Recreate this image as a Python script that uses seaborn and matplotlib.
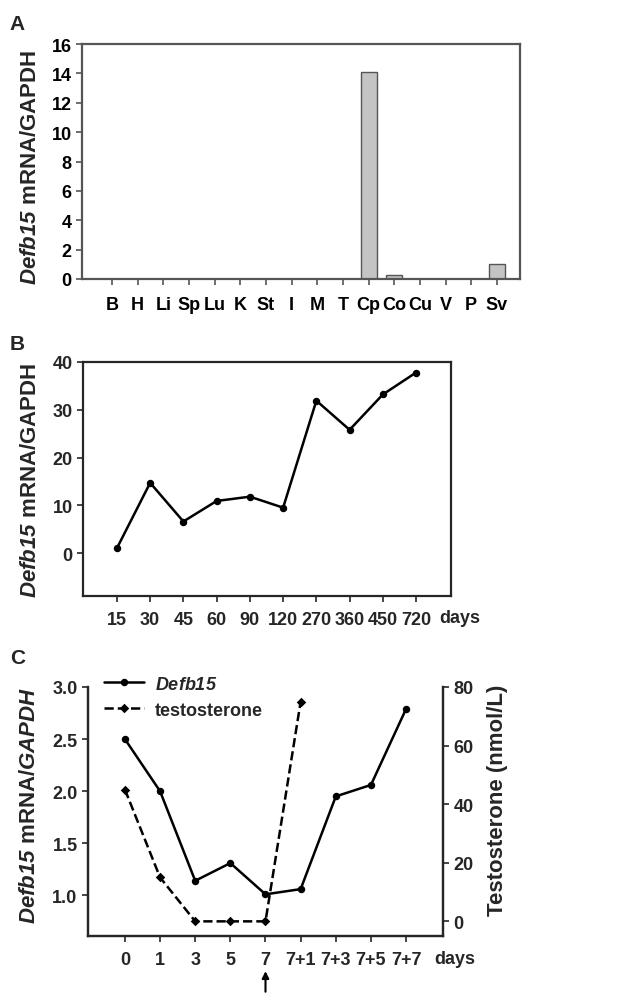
import numpy as np
import pandas as pd
import matplotlib
matplotlib.use('Agg')
import matplotlib.pyplot as plt
import matplotlib.transforms as mtransforms
import seaborn as sns

# panel A: tissue distribution
tissues = ['B', 'H', 'Li', 'Sp', 'Lu', 'K', 'St', 'I', 'M', 'T', 'Cp', 'Co', 'Cu', 'V', 'P', 'Sv']
tissue_expr = [0, 0, 0, 0, 0, 0, 0, 0, 0, 0, 14.1, 0.3, 0, 0, 0, 1.0]

# panel B: expression by age (days)
ages = ['15', '30', '45', '60', '90', '120', '270', '360', '450', '720']
age_expr = [1.0, 14.7, 6.6, 10.9, 11.8, 9.5, 31.9, 25.8, 33.2, 37.8]

# panel C: castration / testosterone replacement
cast_days = ['0', '1', '3', '5', '7', '7+1', '7+3', '7+5', '7+7']
cast_expr = [2.5, 2.0, 1.14, 1.31, 1.01, 1.06, 1.95, 2.06, 2.79]
testo_days = ['0', '1', '3', '5', '7', '7+1']
testo = [45, 15, 0, 0, 0, 75]

sns.set_style('ticks')
plt.rcParams['font.family'] = ['Liberation Sans', 'DejaVu Sans']
plt.rcParams['font.weight'] = 'bold'
plt.rcParams['mathtext.fontset'] = 'custom'
plt.rcParams['mathtext.sf'] = 'Liberation Sans:italic:bold'
plt.rcParams['mathtext.rm'] = 'Liberation Sans:bold'
plt.rcParams['axes.linewidth'] = 1.6
plt.rcParams['xtick.major.width'] = 1.2
plt.rcParams['ytick.major.width'] = 1.2
plt.rcParams['xtick.major.size'] = 4
plt.rcParams['ytick.major.size'] = 4

XT = 13
YT = 13
LAB = 16

W, H = 623, 995
fig = plt.figure(figsize=(W / 100, H / 100), dpi=100)


def box(l, r, t, b):
    return [l / W, 1 - b / H, (r - l) / W, (b - t) / H]


def style_ticks(ax):
    for lab in ax.get_xticklabels():
        lab.set_fontweight('bold')
        lab.set_fontsize(XT)
    for lab in ax.get_yticklabels():
        lab.set_fontweight('bold')
        lab.set_fontsize(YT)


ITAL = r'$\mathsf{Defb15}$'

# ---- A ----
axA = fig.add_axes(box(82, 520, 45, 280))
sns.barplot(x=tissues, y=tissue_expr, order=tissues, color='#c4c4c4', saturation=1,
            edgecolor='#555555', linewidth=1.0, width=0.63, ax=axA)
axA.set_xlim(-1.17, 15.9)
axA.set_ylim(0, 16)
axA.set_yticks(range(0, 17, 2))
for s in axA.spines.values():
    s.set_color('#555555')
axA.tick_params(colors='#555555', labelcolor='black')
axA.tick_params(axis='x', pad=8)
axA.set_xlabel('')
axA.set_ylabel(ITAL + ' mRNA/GAPDH', fontsize=LAB, fontweight='bold')
axA.yaxis.set_label_coords(-0.094, 0.48)
style_ticks(axA)
fig.text(9 / W, 1 - 24 / H, 'A', fontsize=15, fontweight='bold', va='center')

# ---- B ----
axB = fig.add_axes(box(83, 451, 363, 597))
sns.pointplot(x=ages, y=age_expr, order=ages, color='black', errorbar=None,
              markers='o', markersize=4, linewidth=1.8, ax=axB)
axB.set_xlim(-1.02, 10.05)
axB.set_ylim(-9, 40)
axB.set_yticks(range(0, 41, 10))
axB.set_xlabel('')
axB.set_ylabel(ITAL + ' mRNA/GAPDH', fontsize=LAB, fontweight='bold')
axB.yaxis.set_label_coords(-0.115, 0.5)
style_ticks(axB)
axB.tick_params(axis='x', pad=7)
axB.text(0.968, -0.092, 'days', transform=axB.transAxes, fontsize=XT, fontweight='bold',
         ha='left', va='center')
fig.text(10 / W, 1 - 345 / H, 'B', fontsize=15, fontweight='bold', va='center')

# ---- C ----
axC = fig.add_axes(box(88, 443, 688, 937))
sns.pointplot(x=cast_days, y=cast_expr, order=cast_days, color='black', errorbar=None,
              markers='o', markersize=4, linewidth=1.8, ax=axC, label=ITAL)
axC2 = axC.twinx()
sns.pointplot(x=testo_days, y=testo, order=cast_days, color='black', errorbar=None,
              markers='D', markersize=3.5, linewidth=1.8, linestyles='--', ax=axC2,
              label='testosterone')
for a in (axC, axC2):
    a.set_xlim(-1.05, 9.05)
    a.spines['top'].set_visible(False)
axC.set_ylim(0.61, 3.0)
axC.set_yticks([1.0, 1.5, 2.0, 2.5, 3.0])
axC.set_yticklabels(['1.0', '1.5', '2.0', '2.5', '3.0'])
axC2.set_ylim(-5, 80)
axC2.set_yticks(range(0, 81, 20))
axC.set_xlabel('')
axC.set_ylabel(ITAL + r' mRNA/$\mathsf{GAPDH}$', fontsize=LAB, fontweight='bold')
axC.yaxis.set_label_coords(-0.135, 0.53)
axC2.set_ylabel('Testosterone (nmol/L)', fontsize=LAB, fontweight='bold')
axC2.yaxis.set_label_coords(1.125, 0.55)
style_ticks(axC)
style_ticks(axC2)
axC.tick_params(axis='x', pad=7)
axC.text(0.975, -0.092, 'days', transform=axC.transAxes, fontsize=XT, fontweight='bold',
         ha='left', va='center')
h1, l1 = axC.get_legend_handles_labels()
h2, l2 = axC2.get_legend_handles_labels()
if axC2.get_legend():
    axC2.get_legend().remove()
axC.legend(h1[:1] + h2[:1], [ITAL, 'testosterone'], loc='upper left',
           bbox_to_anchor=(0.025, 1.075), frameon=False, fontsize=13, handlelength=2.2,
           handletextpad=0.6, labelspacing=0.5, borderaxespad=0)
trans = mtransforms.blended_transform_factory(axC.transData, axC.transAxes)
axC.annotate('', xy=(4, -0.13), xytext=(4, -0.235), xycoords=trans, textcoords=trans,
             arrowprops=dict(arrowstyle='-|>', color='black', lw=1.5, mutation_scale=10),
             annotation_clip=False)
fig.text(10 / W, 1 - 658 / H, 'C', fontsize=15, fontweight='bold', va='center')

fig.savefig('out.png', dpi=100)
